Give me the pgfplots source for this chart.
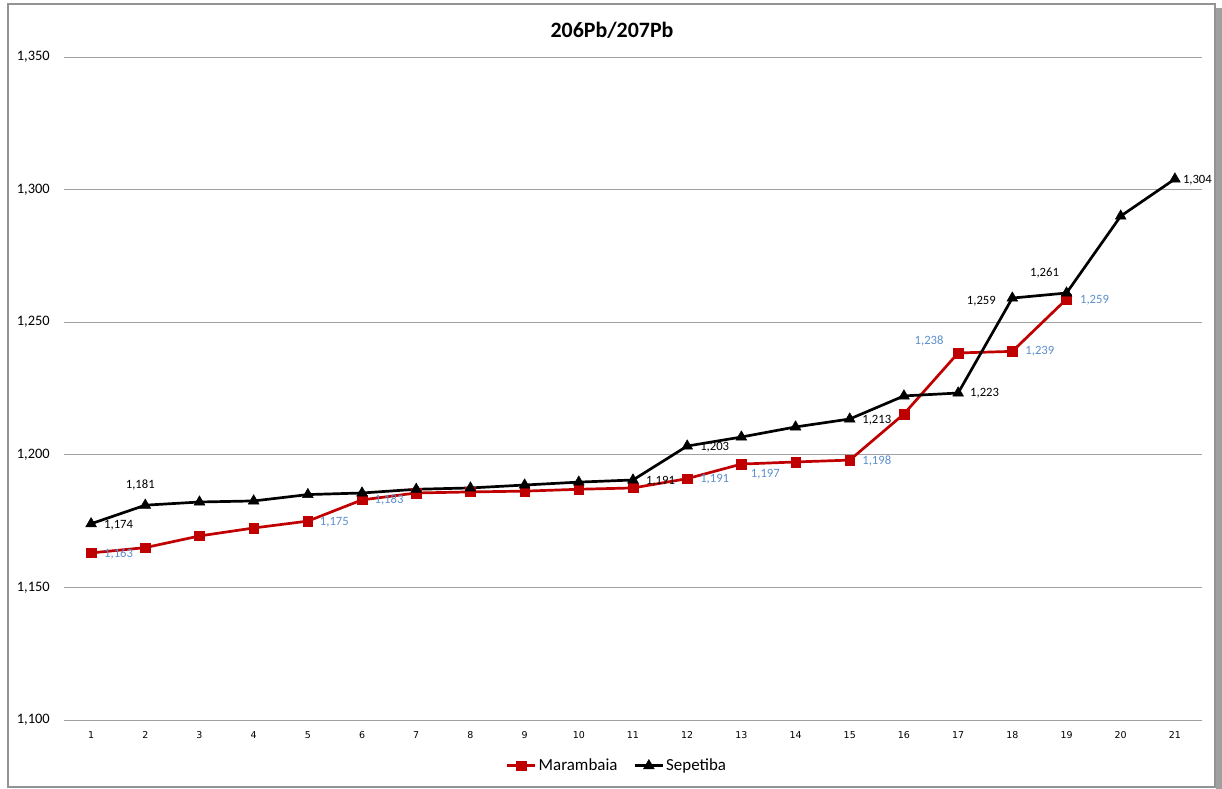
\documentclass[border=0pt]{standalone}
\usepackage{pgfplots}
\pgfplotsset{compat=1.18}
\usepackage{pgfplotstable}
\usepackage{fontspec}
\setmainfont{Carlito}
\newfontfamily\dejavu{DejaVu Sans}
\definecolor{mred}{HTML}{C00000}
\definecolor{lblue}{HTML}{5B8FCB}
\definecolor{gridgray}{HTML}{A0A0A0}

\pgfplotstableread{
x y
1 1.163
2 1.165
3 1.1694
4 1.1724
5 1.175
6 1.183
7 1.1856
8 1.186
9 1.1863
10 1.187
11 1.1875
12 1.191
13 1.1965
14 1.1973
15 1.198
16 1.2154
17 1.2384
18 1.239
19 1.2587
}\marambaia

\pgfplotstableread{
x y
1 1.174
2 1.181
3 1.1822
4 1.1826
5 1.185
6 1.1856
7 1.187
8 1.1875
9 1.1886
10 1.1897
11 1.1905
12 1.2033
13 1.2067
14 1.2105
15 1.2135
16 1.2222
17 1.2233
18 1.2591
19 1.261
20 1.290
21 1.304
}\sepetiba

\pgfplotstableread{
x y lab dx dy
1 1.174 1,174 27.5 -1
2 1.181 1,181 -5 20
11 1.1905 1,191 27.5 -1
12 1.2033 1,203 27.5 -1
15 1.2135 1,213 27 -1
17 1.2233 1,223 26.5 0
18 1.2591 1,259 -31 -3
19 1.261 1,261 -22 20
21 1.304 1,304 22.5 -1
}\seplabels

\pgfplotstableread{
x y lab dx dy
1 1.163 1,163 27.5 -1
5 1.175 1,175 26.5 -1
6 1.183 1,183 27 0
12 1.191 1,191 27.5 -1
13 1.1965 1,197 24 -10
15 1.198 1,198 27 -1
17 1.2384 1,238 -29 12
18 1.239 1,239 27.5 0
19 1.2587 1,259 28 -1
}\marlabels

\begin{document}
\begin{tikzpicture}
\useasboundingbox (-64bp,-69bp) rectangle (1158bp,720bp);
\fill[gray!75] (1152bp,-69bp) rectangle (1158bp,712bp);
\draw[gray!85, line width=1.2bp] (-56bp,-67bp) rectangle (1151bp,716bp);
\node[font=\bfseries\fontsize{22}{26}\selectfont, inner sep=0pt] at (548bp,690bp) {206Pb/207Pb};
\begin{axis}[
  at={(0,0)}, anchor=south west,
  scale only axis, width=1138bp, height=663bp,
  xmin=0.5, xmax=21.5, ymin=1.1, ymax=1.35,
  xtick={1,...,21},
  ytick={1.1,1.15,1.2,1.25,1.3,1.35},
  ymajorgrids, grid style={gridgray, line width=0.9bp},
  axis line style={draw=none},
  major tick length=0pt,
  clip=false,
  /pgf/number format/assume math mode=true,
  yticklabel style={/pgf/number format/.cd, fixed, fixed zerofill, precision=3, use comma, /tikz/.cd,
    anchor=east, inner sep=0pt, xshift=-14bp, font=\fontsize{14.5}{16}\selectfont},
  xticklabel style={anchor=north, inner sep=0pt, yshift=-11bp, font=\dejavu\fontsize{9.5}{11}\selectfont},
  legend style={at={(0.486,-0.069)}, anchor=center, draw=none, fill=none,
    legend columns=2, font=\fontsize{17}{20}\selectfont, inner sep=0pt,
    /tikz/every even column/.append style={column sep=14bp}},
  legend image code/.code={\draw[#1, mark repeat=2, mark phase=2] plot coordinates {(0bp,0bp)(14bp,0bp)(28bp,0bp)};},
]
\addplot[mred, line width=2.7bp, mark=square*, mark size=4.8bp, mark options={solid, line width=0.5bp}] table[x=x,y=y] {\marambaia};
\addlegendentry{Marambaia}
\addplot[black, line width=2.7bp, mark=triangle*, mark size=6.2bp, mark options={solid, line width=0.5bp}] table[x=x,y=y] {\sepetiba};
\addlegendentry{Sepetiba}

\addplot[forget plot, only marks, mark=*, mark options={opacity=0, draw=none, fill=none},
  point meta=explicit symbolic, nodes near coords, nodes near coords align=center,
  visualization depends on={\thisrow{dx}\as\dx},
  visualization depends on={\thisrow{dy}\as\dy},
  every node near coord/.append style={anchor=center, xshift=\dx*1bp, yshift=\dy*1bp,
    font=\fontsize{12.7}{14}\selectfont, text=black, inner sep=0pt, opacity=1}]
  table[x=x,y=y,meta=lab] {\seplabels};
\addplot[forget plot, only marks, mark=*, mark options={opacity=0, draw=none, fill=none},
  point meta=explicit symbolic, nodes near coords, nodes near coords align=center,
  visualization depends on={\thisrow{dx}\as\dx},
  visualization depends on={\thisrow{dy}\as\dy},
  every node near coord/.append style={anchor=center, xshift=\dx*1bp, yshift=\dy*1bp,
    font=\fontsize{12.7}{14}\selectfont, text=lblue, inner sep=0pt, opacity=1}]
  table[x=x,y=y,meta=lab] {\marlabels};
\end{axis}
\end{tikzpicture}
\end{document}
